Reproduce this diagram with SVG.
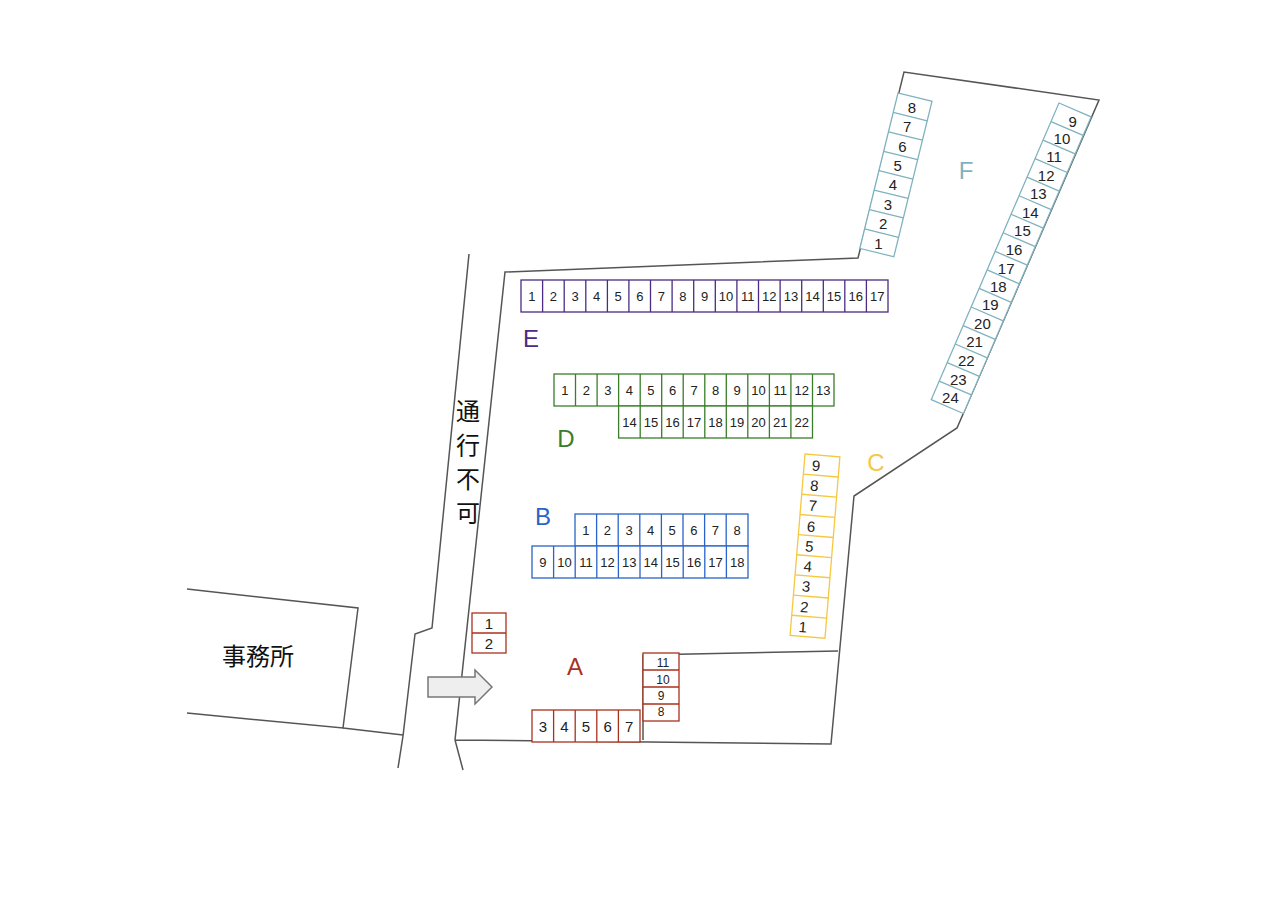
<svg xmlns="http://www.w3.org/2000/svg" width="1278" height="904" viewBox="0 0 1278 904">
<style>
.o{fill:none;stroke:#555;stroke-width:1.5}
.c{fill:#fff;stroke-width:1.3}
.t{font-family:"Liberation Sans",Arial,sans-serif;font-size:13px;fill:#222;text-anchor:middle}
.L{font-family:"Liberation Sans",Arial,sans-serif;font-size:24px;text-anchor:middle}
.j{font-family:"Liberation Sans","Noto Sans CJK JP",sans-serif;font-size:24px;fill:#111;text-anchor:middle}
.E{stroke:#4b2c82}.D{stroke:#3a7d2a}.B{stroke:#2a64c8}.C{stroke:#f5c842}.A{stroke:#a8321e}.F{stroke:#7fb2bf}
</style>
<rect width="1278" height="904" fill="#fff"/>
<g id="outline">
<polyline class="o" points="469,254 432,628 415,634 403,736 398,768"/>
<polyline class="o" points="463,770 455,740 505,272 858,258 904,72 1099,100 957,428 854,496 831,744 455,740"/>
<polyline class="o" points="643,740 643,655 838,651"/>
<polyline class="o" points="187,589 358,608 343,728 187,713"/>
<line class="o" x1="343" y1="728" x2="403" y2="735"/>
</g>
<g id="labels">
<text class="j" x="258" y="665">事務所</text>
<text class="j" x="468" y="420">通</text><text class="j" x="468" y="454">行</text><text class="j" x="468" y="488">不</text><text class="j" x="468" y="522">可</text>
<text class="L" x="531" y="347" fill="#4b2c82">E</text>
<text class="L" x="566" y="447" fill="#3a7d2a">D</text>
<text class="L" x="543" y="525" fill="#2a64c8">B</text>
<text class="L" x="876" y="471" fill="#f5c842">C</text>
<text class="L" x="575" y="675" fill="#a8321e">A</text>
<text class="L" x="966" y="179" fill="#7fb2bf">F</text>
</g>
<g id="arrow"><polygon points="428,677 475,677 475,670 492,687 475,704 475,697 428,697" fill="#eee" stroke="#777" stroke-width="1.5"/></g>
<g id="E">
<rect class="c E" x="521" y="280" width="367" height="32"/>
<path class="E" fill="none" stroke-width="1.3" d="M542.6 280v32M564.2 280v32M585.8 280v32M607.4 280v32M628.9 280v32M650.5 280v32M672.1 280v32M693.7 280v32M715.3 280v32M736.9 280v32M758.5 280v32M780.1 280v32M801.7 280v32M823.3 280v32M844.8 280v32M866.4 280v32"/>
<g class="t"><text x="531.8" y="301">1</text><text x="553.4" y="301">2</text><text x="575" y="301">3</text><text x="596.6" y="301">4</text><text x="618.2" y="301">5</text><text x="639.8" y="301">6</text><text x="661.3" y="301">7</text><text x="682.9" y="301">8</text><text x="704.5" y="301">9</text><text x="726.1" y="301">10</text><text x="747.7" y="301">11</text><text x="769.3" y="301">12</text><text x="790.9" y="301">13</text><text x="812.5" y="301">14</text><text x="834.1" y="301">15</text><text x="855.7" y="301">16</text><text x="877.2" y="301">17</text></g>
</g>
<g id="D">
<rect class="c D" x="554" y="374" width="280" height="32"/>
<rect class="c D" x="618.6" y="406" width="193.9" height="32"/>
<path class="D" fill="none" stroke-width="1.3" d="M575.5 374v32M597.1 374v32M618.6 374v32M640.2 374v64M661.7 374v64M683.2 374v64M704.8 374v64M726.3 374v64M747.8 374v64M769.4 374v64M790.9 374v64M812.5 374v32"/>
<g class="t"><text x="564.8" y="395">1</text><text x="586.3" y="395">2</text><text x="607.8" y="395">3</text><text x="629.4" y="395">4</text><text x="650.9" y="395">5</text><text x="672.5" y="395">6</text><text x="694" y="395">7</text><text x="715.5" y="395">8</text><text x="737.1" y="395">9</text><text x="758.6" y="395">10</text><text x="780.2" y="395">11</text><text x="801.7" y="395">12</text><text x="823.2" y="395">13</text>
<text x="629.4" y="427">14</text><text x="650.9" y="427">15</text><text x="672.5" y="427">16</text><text x="694" y="427">17</text><text x="715.5" y="427">18</text><text x="737.1" y="427">19</text><text x="758.6" y="427">20</text><text x="780.2" y="427">21</text><text x="801.7" y="427">22</text></g>
</g>
<g id="B">
<rect class="c B" x="575" y="514" width="173" height="32"/>
<rect class="c B" x="532" y="546" width="216" height="32"/>
<path class="B" fill="none" stroke-width="1.3" d="M596.6 514v32M618.2 514v32M639.8 514v32M661.4 514v32M683 514v32M704.6 514v32M726.2 514v32M553.6 546v32M575.2 546v32M596.8 546v32M618.4 546v32M640 546v32M661.6 546v32M683.2 546v32M704.8 546v32M726.4 546v32"/>
<g class="t"><text x="585.8" y="535">1</text><text x="607.4" y="535">2</text><text x="629" y="535">3</text><text x="650.6" y="535">4</text><text x="672.2" y="535">5</text><text x="693.8" y="535">6</text><text x="715.4" y="535">7</text><text x="737" y="535">8</text>
<text x="542.8" y="567">9</text><text x="564.4" y="567">10</text><text x="586" y="567">11</text><text x="607.6" y="567">12</text><text x="629.2" y="567">13</text><text x="650.8" y="567">14</text><text x="672.4" y="567">15</text><text x="694" y="567">16</text><text x="715.6" y="567">17</text><text x="737.2" y="567">18</text></g>
</g>
<g id="C" transform="translate(805,454) rotate(4.7)">
<rect class="c C" x="0" y="0" width="35" height="182"/>
<path class="C" fill="none" stroke-width="1.3" d="M0 20.2h35M0 40.4h35M0 60.7h35M0 80.9h35M0 101.1h35M0 121.3h35M0 141.6h35M0 161.8h35"/>
<g class="t" style="font-size:15px"><text x="12" y="16">9</text><text x="12" y="36">8</text><text x="12" y="56">7</text><text x="12" y="77">6</text><text x="12" y="97">5</text><text x="12" y="117">4</text><text x="12" y="137">3</text><text x="12" y="158">2</text><text x="12" y="178">1</text></g>
</g>
<g id="A">
<rect class="c A" x="472" y="613" width="34" height="40"/>
<path class="A" d="M472 633h34" stroke-width="1.3"/>
<g class="t" style="font-size:15px"><text x="489" y="629">1</text><text x="489" y="649">2</text></g>
<rect class="c A" x="532" y="710" width="108" height="32"/>
<path class="A" fill="none" stroke-width="1.3" d="M553.6 710v32M575.2 710v32M596.8 710v32M618.4 710v32"/>
<g class="t" style="font-size:15px"><text x="542.8" y="732">3</text><text x="564.4" y="732">4</text><text x="586" y="732">5</text><text x="607.6" y="732">6</text><text x="629.2" y="732">7</text></g>
<rect class="c A" x="643" y="653" width="36" height="68"/>
<path class="A" fill="none" stroke-width="1.3" d="M643 670h36M643 687h36M643 704h36"/>
<g class="t" style="font-size:12px"><text x="663" y="667">11</text><text x="663" y="684">10</text><text x="661" y="700">9</text><text x="661" y="716">8</text></g>
</g>
<g id="F-left" transform="translate(898,93) rotate(13.8)">
<rect class="c F" x="0" y="0" width="35" height="160"/>
<path class="F" fill="none" stroke-width="1.3" d="M0 20h35M0 40h35M0 60h35M0 80h35M0 100h35M0 120h35M0 140h35"/>
<g class="t" style="font-size:15px"><text x="17" y="16" transform="rotate(-13.8 17 11)">8</text><text x="17" y="36" transform="rotate(-13.8 17 31)">7</text><text x="17" y="56" transform="rotate(-13.8 17 51)">6</text><text x="17" y="76" transform="rotate(-13.8 17 71)">5</text><text x="17" y="96" transform="rotate(-13.8 17 91)">4</text><text x="17" y="116" transform="rotate(-13.8 17 111)">3</text><text x="17" y="136" transform="rotate(-13.8 17 131)">2</text><text x="17" y="156" transform="rotate(-13.8 17 151)">1</text></g>
</g>
<g id="F-right" transform="translate(1059,103) rotate(23.3)">
<rect class="c F" x="0" y="0" width="35" height="323"/>
<path class="F" fill="none" stroke-width="1.3" d="M0 20.2h35M0 40.4h35M0 60.6h35M0 80.8h35M0 101h35M0 121.1h35M0 141.3h35M0 161.5h35M0 181.7h35M0 201.9h35M0 222.1h35M0 242.3h35M0 262.4h35M0 282.6h35M0 302.8h35"/>
<g class="t" style="font-size:15px"><text x="20" y="17" transform="rotate(-23.3 20 12)">9</text><text x="17" y="37" transform="rotate(-23.3 17 32)">10</text><text x="17" y="57" transform="rotate(-23.3 17 52)">11</text><text x="17" y="77" transform="rotate(-23.3 17 72)">12</text><text x="17" y="97" transform="rotate(-23.3 17 92)">13</text><text x="17" y="117" transform="rotate(-23.3 17 112)">14</text><text x="17" y="137" transform="rotate(-23.3 17 132)">15</text><text x="17" y="158" transform="rotate(-23.3 17 153)">16</text><text x="17" y="178" transform="rotate(-23.3 17 173)">17</text><text x="17" y="198" transform="rotate(-23.3 17 193)">18</text><text x="17" y="218" transform="rotate(-23.3 17 213)">19</text><text x="17" y="238" transform="rotate(-23.3 17 233)">20</text><text x="17" y="258" transform="rotate(-23.3 17 253)">21</text><text x="17" y="279" transform="rotate(-23.3 17 274)">22</text><text x="17" y="299" transform="rotate(-23.3 17 294)">23</text><text x="17" y="319" transform="rotate(-23.3 17 314)">24</text></g>
</g>
</svg>
